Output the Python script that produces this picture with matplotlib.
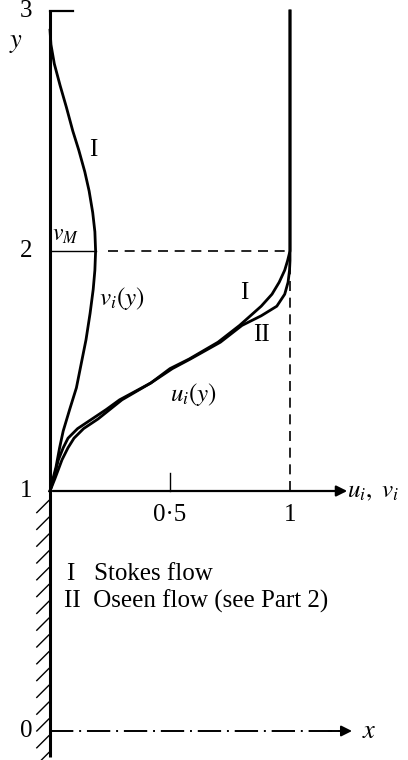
import matplotlib.pyplot as plt
import numpy as np

plt.rcParams['mathtext.fontset'] = 'stix'

# profiles (y, value)
y_v = [1.0, 1.05, 1.10, 1.18, 1.25, 1.34, 1.43, 1.53, 1.63, 1.74, 1.84, 1.92, 2.0,
       2.08, 2.16, 2.25, 2.33, 2.42, 2.50, 2.60, 2.69, 2.78, 2.86, 2.92]
v_I = [0.0, 0.012, 0.025, 0.040, 0.055, 0.082, 0.11, 0.13, 0.15, 0.167, 0.18, 0.187, 0.19,
       0.187, 0.178, 0.163, 0.145, 0.12, 0.095, 0.068, 0.042, 0.018, 0.004, 0.0]

y_u = [1.0, 1.02, 1.05, 1.09, 1.13, 1.18, 1.22, 1.26, 1.30, 1.34, 1.38, 1.45, 1.51,
       1.55, 1.62, 1.69, 1.73, 1.77, 1.82, 1.87, 1.92, 1.96, 2.0, 3.0]
u_I = [0.0, 0.008, 0.02, 0.035, 0.05, 0.075, 0.10, 0.14, 0.20, 0.25, 0.30, 0.42, 0.50,
       0.58, 0.70, 0.79, 0.835, 0.88, 0.925, 0.955, 0.978, 0.99, 1.0, 1.0]
u_II = [0.0, 0.006, 0.015, 0.025, 0.035, 0.055, 0.075, 0.115, 0.175, 0.235, 0.29, 0.42, 0.51,
        0.585, 0.71, 0.80, 0.88, 0.945, 0.978, 0.992, 0.998, 1.0, 1.0, 1.0]

y_ticks = [0, 1, 2, 3]
x_ticks = [0.5, 1]
x_tick_labels = ['0·5', '1']

fig = plt.figure(figsize=(4.08, 7.6), dpi=100)
ax = fig.add_axes([0, 0, 1, 1])
ax.set_xlim(-50 / 240, 358 / 240)
ax.set_ylim(-29 / 240, 731 / 240)
ax.set_aspect('equal')
ax.axis('off')

serif = 'Liberation Serif'
k = 'black'
fs = 18

# wall and hatching
ax.plot([0, 0], [-0.11, 3.0], color=k, lw=2.2, solid_capstyle='butt')
ax.plot([0, 0.096], [3.0, 3.0], color=k, lw=1.6)
for yh in np.arange(0.96, -0.12, -0.07):
    ax.plot([-0.055, -0.005], [yh - 0.05, yh], color=k, lw=1.0)

# axes at y=1 and y=0
ax.annotate('', xy=(1.25, 1), xytext=(0, 1),
            arrowprops=dict(arrowstyle='-|>', color=k, lw=1.6, mutation_scale=16))
ax.plot([0, 1.22], [0, 0], color=k, lw=1.4, ls=(0, (12, 3, 1, 3)))
ax.annotate('', xy=(1.27, 0), xytext=(1.15, 0),
            arrowprops=dict(arrowstyle='-|>', color=k, lw=1.4, mutation_scale=16))
ax.plot([0.5, 0.5], [1, 1.075], color=k, lw=1.0)

# guide lines
ax.plot([0, 0.19], [2, 2], color=k, lw=1.0)
ax.plot([0.24, 1], [2, 2], color=k, lw=1.2, ls=(0, (6, 4)))
ax.plot([1, 1], [1, 2], color=k, lw=1.2, ls=(0, (6, 4)))

# profiles
ax.plot(v_I, y_v, color=k, lw=2.0)
ax.plot(u_I, y_u, color=k, lw=2.0)
ax.plot(u_II, y_u, color=k, lw=2.0)

# labels
for yt in y_ticks:
    ax.text(-0.1, yt, str(yt), family=serif, fontsize=fs, ha='center', va='center')
for xt, lab in zip(x_ticks, x_tick_labels):
    ax.text(xt, 0.9, lab, family=serif, fontsize=fs, ha='center', va='center')
ax.text(-0.14, 2.87, '$y$', fontsize=fs + 1, ha='center', va='center')
ax.text(0.065, 2.07, '$v_M$', fontsize=fs - 1, ha='center', va='center')
ax.text(0.3, 1.8, '$v_i(y)$', fontsize=fs, ha='center', va='center')
ax.text(0.6, 1.4, '$u_i(y)$', fontsize=fs, ha='center', va='center')
ax.text(1.345, 1.0, '$u_i,\\ v_i$', fontsize=fs, ha='center', va='center')
ax.text(1.33, 0.0, '$x$', fontsize=fs + 1, ha='center', va='center')
ax.text(0.18, 2.42, 'I', family=serif, fontsize=fs, ha='center', va='center')
ax.text(0.81, 1.825, 'I', family=serif, fontsize=fs, ha='center', va='center')
ax.text(0.883, 1.65, 'II', family=serif, fontsize=fs, ha='center', va='center')
ax.text(0.07, 0.655, 'I   Stokes flow', family=serif, fontsize=fs, ha='left', va='center')
ax.text(0.06, 0.54, 'II  Oseen flow (see Part 2)', family=serif, fontsize=fs,
        ha='left', va='center')

fig.savefig('out.png', dpi=100)
